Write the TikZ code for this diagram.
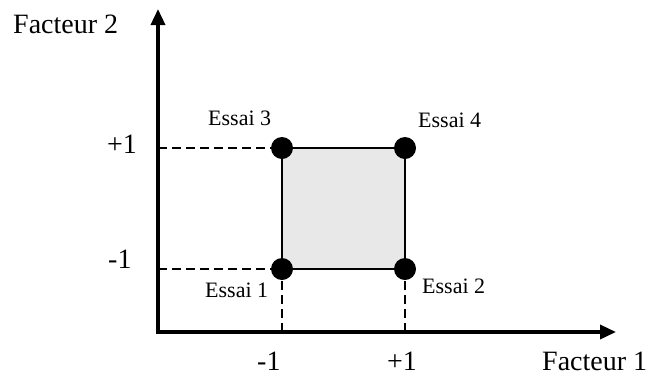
\documentclass[tikz,border=0pt]{standalone}
\usepackage{fontspec}
\setmainfont{Liberation Serif}
\usetikzlibrary{arrows.meta}
\definecolor{sqfill}{HTML}{E8E8E8}
\tikzset{
  axis/.style={line width=3.5pt,-{Triangle[length=16pt,width=14pt]}},
  guide/.style={line width=2.2pt,dash pattern=on 9pt off 5pt},
  dot/.style={circle,fill=black,inner sep=0pt,minimum size=22pt},
  big/.style={font=\fontsize{28}{30}\selectfont,inner sep=0pt,anchor=base west},
  small/.style={font=\fontsize{22}{24}\selectfont,inner sep=0pt,anchor=base west},
}
\begin{document}
\begin{tikzpicture}[x=1pt,y=-1pt]
\useasboundingbox (0,0) rectangle (648,376);
\coordinate (O) at (158,332);
\coordinate (Ytip) at (158,9);
\coordinate (Xtip) at (616,332);
\coordinate (Yp) at (158,148);
\coordinate (Ym) at (158,269);
\coordinate (Xm) at (282,332);
\coordinate (Xp) at (405,332);
\fill[sqfill] (282,148) rectangle (405,269);
\draw[line width=2pt] (282,148) rectangle (405,269);
\draw[guide] (Yp) -- (282,148);
\draw[guide] (Ym) -- (282,269);
\draw[guide] (Xm) -- (282,269);
\draw[guide] (Xp) -- (405,269);
\node[dot] (e3) at (282,148) {};
\node[dot] (e4) at (405,148) {};
\node[dot] (e1) at (282,269) {};
\node[dot] (e2) at (405,269) {};
\draw[axis] (158,333.75) -- (Ytip);
\draw[axis] (156.25,332) -- (Xtip);
\node[big] (f2) at (13,33) {Facteur 2};
\node[big] (f1) at (542,370) {Facteur 1};
\node[big] (lp) at (107,153) {+1};
\node[big] (lm) at (108,268) {-1};
\node[big] (bm) at (257,370) {-1};
\node[big] (bp) at (387,370) {+1};
\node[small] (t3) at (208,125) {Essai 3};
\node[small] (t4) at (418,127) {Essai 4};
\node[small] (t1) at (205,297) {Essai 1};
\node[small] (t2) at (422,293) {Essai 2};
\end{tikzpicture}
\end{document}
